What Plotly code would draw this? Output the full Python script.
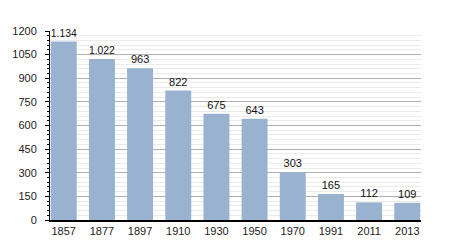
import plotly.graph_objects as go

years = ["1857", "1877", "1897", "1910", "1930", "1950", "1970", "1991", "2011", "2013"]
population = [1134, 1022, 963, 822, 675, 643, 303, 165, 112, 109]
labels = ["1.134", "1.022", "963", "822", "675", "643", "303", "165", "112", "109"]
y_ticks = [0, 150, 300, 450, 600, 750, 900, 1050, 1200]

xpos = list(range(len(years)))

fig = go.Figure()
fig.add_trace(go.Bar(
    x=xpos, y=population, text=labels, textposition="outside",
    textfont=dict(size=11, color="#111"),
    marker=dict(color="#98b2cf", line=dict(width=0)),
    width=0.68, cliponaxis=False,
))
fig.update_layout(
    width=450, height=250,
    margin=dict(l=50, r=29, t=31, b=30),
    paper_bgcolor="white", plot_bgcolor="white",
    font=dict(family="Liberation Sans, Arial, sans-serif", size=11, color="#222"),
    showlegend=False,
    bargap=0.3,
)
fig.update_xaxes(
    tickvals=xpos, ticktext=years, range=[-0.36, 9.36],
    showgrid=False, showline=True, linecolor="black", linewidth=1.5,
    ticks="", tickfont=dict(size=11, color="#222"), zeroline=False,
)
fig.update_yaxes(
    range=[0, 1200], tickvals=y_ticks, showgrid=True, gridcolor="#b0b0b0", gridwidth=1,
    showline=True, linecolor="black", linewidth=1, ticks="outside", ticklen=4,
    tickcolor="black", zeroline=False, tickfont=dict(size=11, color="#222"),
    ticklabelstandoff=6,
    minor=dict(dtick=30, showgrid=True, gridcolor="#ebebeb", gridwidth=1,
               ticks="outside", ticklen=2, tickcolor="black"),
)
fig.write_html("out.html")
